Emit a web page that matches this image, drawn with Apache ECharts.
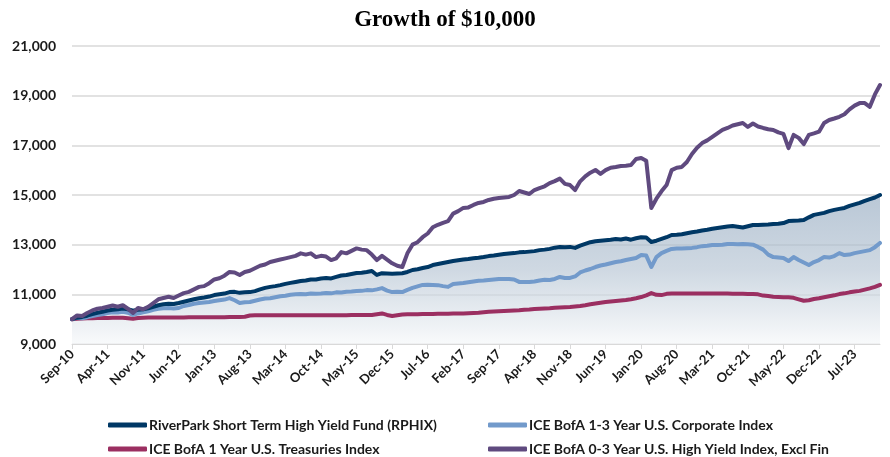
<!DOCTYPE html>
<html>
<head>
<meta charset="utf-8">
<title>Growth of $10,000</title>
<script src="https://cdn.jsdelivr.net/npm/echarts@6/dist/echarts.min.js"></script>
<style>
  html,body{margin:0;padding:0;background:#fff;}
  #main{width:890px;height:457px;}
</style>
</head>
<body>
<div id="main"></div>
<script>
// month labels Sep-10 .. Dec-23
var monthNames=['Jan','Feb','Mar','Apr','May','Jun','Jul','Aug','Sep','Oct','Nov','Dec'];
var months=[];
for(var k=0;k<160;k++){
  var mo=(8+k)%12, yr=10+Math.floor((8+k)/12);
  months.push(monthNames[mo]+'-'+(yr<10?'0'+yr:yr));
}

var yTicks=[9000,11000,13000,15000,17000,19000,21000];

// RiverPark Short Term High Yield Fund (RPHIX)
var rphix=[10000,10060,10090,10140,10200,10260,10300,10350,10380,10400,10430,10400,10340,10380,10400,10440,10500,10560,10600,10620,
10610,10650,10700,10750,10800,10840,10870,10910,10970,11000,11030,11090,11100,11060,11080,11090,11130,11200,11260,11300,
11330,11370,11420,11460,11500,11540,11560,11600,11600,11640,11660,11640,11700,11760,11780,11820,11860,11870,11900,11940,
11780,11850,11840,11830,11840,11850,11900,11980,12010,12060,12100,12180,12220,12260,12300,12340,12370,12400,12420,12450,
12470,12500,12540,12560,12590,12620,12640,12660,12690,12700,12720,12740,12780,12800,12830,12880,12910,12900,12910,12870,
12960,13030,13100,13140,13160,13180,13200,13230,13210,13250,13200,13260,13300,13290,13110,13160,13230,13300,13390,13400,
13420,13460,13500,13530,13570,13600,13640,13670,13700,13730,13750,13720,13690,13740,13790,13790,13800,13810,13830,13840,
13870,13950,13960,13970,13990,14100,14200,14240,14280,14350,14400,14440,14480,14560,14620,14680,14760,14830,14900,15000];

// ICE BofA 1-3 Year U.S. Corporate Index
var corp=[10000,10050,10040,10080,10130,10170,10200,10250,10280,10270,10300,10260,10170,10230,10280,10320,10380,10420,10440,10450,
10430,10450,10530,10570,10620,10650,10670,10690,10730,10760,10790,10850,10760,10650,10680,10690,10740,10790,10830,10840,
10880,10920,10940,10980,11000,11010,11000,11030,11020,11030,11050,11040,11080,11070,11100,11110,11130,11140,11170,11160,
11200,11250,11150,11090,11100,11090,11180,11260,11320,11380,11390,11380,11370,11330,11300,11420,11440,11460,11490,11520,
11550,11560,11580,11600,11620,11620,11620,11600,11500,11500,11500,11520,11560,11590,11580,11620,11700,11660,11660,11720,
11880,11960,12020,12100,12160,12200,12250,12300,12330,12380,12420,12460,12580,12560,12100,12500,12660,12750,12830,12850,
12850,12860,12870,12900,12940,12960,12990,12990,13000,13030,13030,13020,13030,13020,13000,12910,12800,12600,12500,12480,
12460,12340,12500,12380,12280,12180,12300,12380,12500,12480,12540,12660,12580,12600,12660,12700,12740,12780,12900,13070];

// ICE BofA 1 Year U.S. Treasuries Index
var tsy=[10000,10020,10030,10040,10040,10050,10050,10050,10060,10060,10060,10040,10020,10050,10060,10070,10070,10070,10070,10070,
10070,10070,10070,10080,10080,10080,10080,10080,10080,10080,10080,10090,10090,10090,10100,10150,10160,10160,10160,10160,
10160,10160,10160,10160,10160,10160,10160,10160,10160,10160,10160,10160,10160,10160,10160,10170,10170,10170,10170,10170,
10200,10230,10170,10130,10160,10190,10200,10200,10200,10210,10210,10210,10220,10220,10220,10230,10230,10230,10240,10250,
10260,10280,10300,10310,10320,10330,10340,10350,10360,10380,10390,10410,10420,10430,10440,10460,10470,10480,10490,10510,
10530,10560,10600,10630,10660,10690,10710,10730,10750,10770,10800,10840,10890,10960,11050,10980,10970,11020,11030,11030,
11030,11030,11030,11030,11030,11030,11030,11030,11030,11030,11020,11020,11020,11010,11010,11000,10950,10930,10900,10890,
10880,10880,10860,10800,10740,10760,10810,10840,10880,10920,10960,11010,11040,11080,11110,11140,11190,11240,11300,11380];

// ICE BofA 0-3 Year U.S. High Yield Index, Excl Fin
var hy=[10000,10150,10130,10250,10350,10420,10450,10500,10550,10500,10560,10420,10250,10450,10400,10500,10650,10800,10850,10900,
10850,10950,11050,11100,11200,11300,11330,11450,11600,11650,11750,11900,11880,11780,11900,11950,12050,12150,12200,12300,
12350,12400,12450,12500,12550,12650,12600,12650,12500,12550,12520,12380,12450,12700,12650,12750,12850,12800,12780,12600,
12380,12550,12400,12250,12150,12100,12650,13000,13100,13300,13450,13700,13800,13880,13950,14250,14350,14480,14500,14600,
14680,14720,14800,14850,14880,14900,14920,15000,15160,15100,15040,15200,15280,15350,15480,15560,15660,15450,15400,15200,
15550,15750,15900,16010,15850,16000,16100,16130,16170,16180,16210,16450,16490,16380,14480,14850,15150,15400,16000,16100,
16130,16330,16650,16900,17090,17200,17340,17480,17620,17700,17800,17850,17900,17740,17880,17760,17700,17650,17620,17520,
17460,16890,17420,17300,17050,17420,17480,17550,17900,18020,18080,18150,18250,18450,18600,18700,18700,18550,19050,19430];

var names=['RiverPark Short Term High Yield Fund (RPHIX)','ICE BofA 1-3 Year U.S. Corporate Index',
  'ICE BofA 1 Year U.S. Treasuries Index','ICE BofA 0-3 Year U.S. High Yield Index, Excl Fin'];
var colors=['#003865','#729acb','#9b2f61','#5f4a7f'];

var labelFont='Lato';
var chart=echarts.init(document.getElementById('main'));

function lineSeries(idx,data){
  return {
    name:names[idx],type:'line',data:data,
    showSymbol:false,symbol:'none',smooth:false,
    lineStyle:{color:colors[idx],width:4,cap:'round',join:'round'},
    itemStyle:{color:colors[idx]}
  };
}

// one legend per item so the two columns line up
function legendItem(idx,left,top){
  return {
    data:[{name:names[idx],itemStyle:{color:colors[idx]}}],
    left:left,top:top,icon:'roundRect',itemWidth:39,itemHeight:5,
    textStyle:{fontFamily:labelFont,fontWeight:700,fontSize:14,color:'#1a1a1a',padding:[0,0,0,-3]}
  };
}

var option={
  animation:false,
  textStyle:{fontFamily:labelFont,fontWeight:700},
  title:{
    text:'Growth of $10,000',left:'center',top:4,
    textStyle:{fontFamily:'Liberation Serif',fontWeight:'bold',fontSize:23,color:'#000'}
  },
  legend:[
    legendItem(0,103,413),
    legendItem(1,483,413),
    legendItem(2,103,437),
    legendItem(3,483,437)
  ],
  grid:{left:72,right:10,top:46,bottom:113},
  xAxis:{
    type:'category',data:months,boundaryGap:false,
    axisLine:{lineStyle:{color:'#d9d9d9',width:1}},
    axisTick:{show:true,interval:6,length:5,lineStyle:{color:'#d9d9d9'}},
    axisLabel:{interval:6,rotate:45,margin:8,fontFamily:labelFont,fontWeight:700,fontSize:13,color:'#1a1a1a'},
    splitLine:{show:false}
  },
  yAxis:{
    type:'value',min:yTicks[0],max:yTicks[yTicks.length-1],interval:2000,
    axisLine:{show:false},axisTick:{show:false},
    axisLabel:{margin:16,fontFamily:labelFont,fontWeight:700,fontSize:14,color:'#1a1a1a',
      formatter:function(v){return v.toLocaleString('en-US');}},
    splitLine:{lineStyle:{color:'#d9d9d9',width:1.5}}
  },
  series:[
    // shaded area under RPHIX, drawn first so the other lines sit on top
    {
      name:'area',type:'line',data:rphix,showSymbol:false,symbol:'none',silent:true,
      lineStyle:{width:0},
      areaStyle:{color:new echarts.graphic.LinearGradient(0,0,0,1,[
        {offset:0,color:'#9bafc4'},
        {offset:0.5,color:'#b9c7d5'},
        {offset:1,color:'#f5f7f9'}
      ])}
    },
    lineSeries(2,tsy),
    lineSeries(1,corp),
    lineSeries(0,rphix),
    lineSeries(3,hy)
  ]
};
chart.setOption(option);
</script>
</body>
</html>
